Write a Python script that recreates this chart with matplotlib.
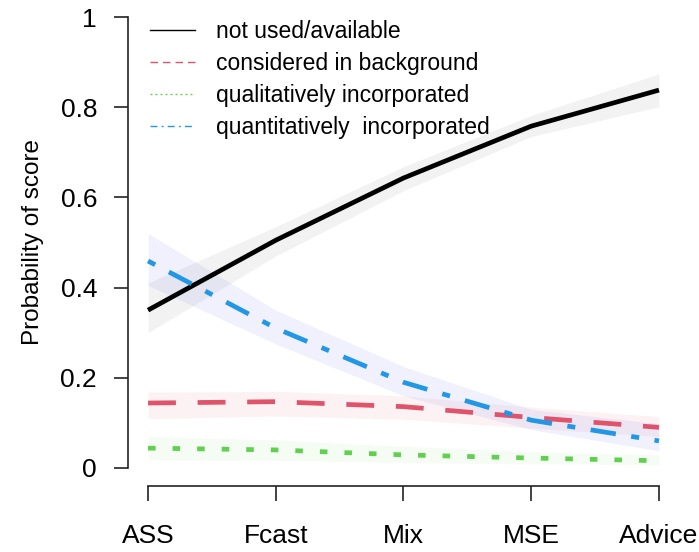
import numpy as np
import matplotlib.pyplot as plt

plt.rcParams['font.family'] = ['Liberation Sans', 'DejaVu Sans']

methods = ["ASS", "Fcast", "Mix", "MSE", "Advice"]
labels = ["not used/available", "considered in background",
          "qualitatively incorporated", "quantitatively  incorporated"]

# predicted probability of each score, with confidence band
p_not = [0.350, 0.505, 0.643, 0.758, 0.838]
lo_not = [0.300, 0.470, 0.615, 0.735, 0.801]
hi_not = [0.410, 0.535, 0.668, 0.782, 0.874]

p_bg = [0.144, 0.147, 0.136, 0.112, 0.090]
lo_bg = [0.109, 0.115, 0.108, 0.088, 0.070]
hi_bg = [0.168, 0.170, 0.160, 0.135, 0.114]

p_qual = [0.044, 0.040, 0.029, 0.022, 0.016]
lo_qual = [0.018, 0.017, 0.012, 0.009, 0.007]
hi_qual = [0.070, 0.062, 0.048, 0.036, 0.029]

p_quant = [0.459, 0.310, 0.190, 0.106, 0.060]
lo_quant = [0.405, 0.275, 0.160, 0.085, 0.038]
hi_quant = [0.520, 0.350, 0.225, 0.130, 0.098]

cols = ["black", "#DF536B", "#61D04F", "#2297E6"]
band_cols = [("black", 0.05), ("#DF536B", 0.07), ("#61D04F", 0.06), ("#5050F0", 0.08)]
styles = ["-", (0, (5.9, 4.6)), (0, (1.6, 3.6)), (0, (1.7, 3.3, 5.4, 3.3))]
leg_styles = ["-", (0, (5.4, 3.6)), (0, (1.4, 2.2)), (0, (5, 3, 1.4, 3))]

series = [(p_not, lo_not, hi_not), (p_bg, lo_bg, hi_bg),
          (p_qual, lo_qual, hi_qual), (p_quant, lo_quant, hi_quant)]

fig = plt.figure(figsize=(6.99, 5.52), dpi=100)
ax = fig.add_axes([127.6 / 699, 66 / 552, (679.4 - 127.6) / 699, 487 / 552])
x = np.arange(1, len(methods) + 1)

for (p, lo, hi), (bc, ba) in zip(series, band_cols):
    ax.fill_between(x, lo, hi, color=bc, alpha=ba, lw=0)
for (p, lo, hi), c, ls in zip(series, cols, styles):
    ax.plot(x, p, color=c, ls=ls, lw=3.4, solid_capstyle='butt')

handles = [plt.Line2D([], [], color=c, ls=ls, lw=1) for c, ls in zip(cols, leg_styles)]
ax.legend(handles, labels, loc='upper left', bbox_to_anchor=(0.0406, 0.957),
          frameon=False, fontsize=16.5, handlelength=1.95, handletextpad=0.95,
          labelspacing=0.40, borderpad=0, borderaxespad=0)

ax.set_xlim(0.84, 5.16)
ax.set_ylim(-0.04, 1.04)
ax.set_xticks(x)
ax.set_xticklabels(methods)
ax.set_yticks([0, 0.2, 0.4, 0.6, 0.8, 1])
ax.set_yticklabels(["0", "0.2", "0.4", "0.6", "0.8", "1"])
ax.spines['top'].set_visible(False)
ax.spines['right'].set_visible(False)
ax.spines['left'].set_bounds(0, 1)
ax.spines['bottom'].set_bounds(1, 5)
for s in ['left', 'bottom']:
    ax.spines[s].set_color('#222222')
    ax.spines[s].set_linewidth(1.2)
ax.tick_params(axis='x', length=11, width=1.2, pad=16.5, labelsize=19, color='#222222')
ax.tick_params(axis='y', length=10, width=1.2, pad=12, labelsize=19, color='#222222')
ax.set_ylabel("Probability of score", fontsize=17.5, labelpad=12)

fig.savefig("out.png", dpi=100)
